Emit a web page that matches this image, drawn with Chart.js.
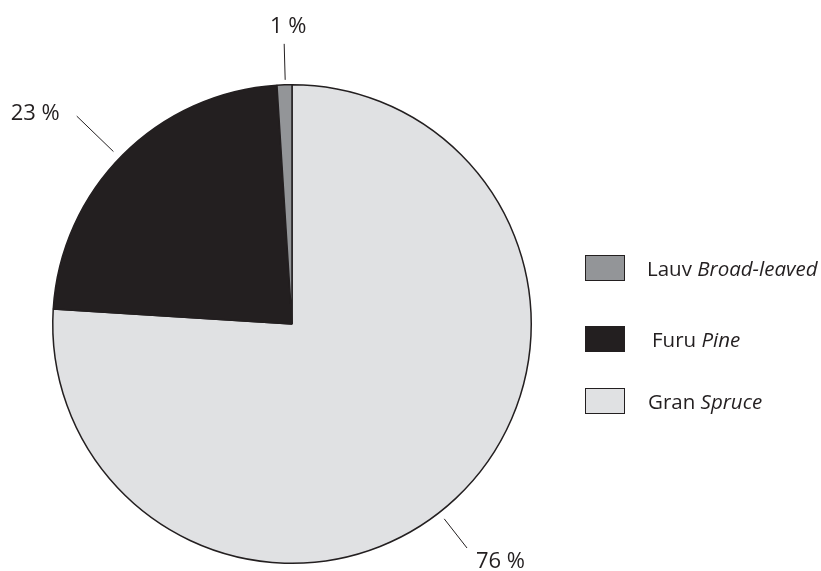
<!DOCTYPE html>
<html>
<head>
<meta charset="utf-8">
<script src="https://cdn.jsdelivr.net/npm/chart.js@4"></script>
<style>
  html, body { margin: 0; padding: 0; background: #fff; }
  #wrap { width: 821px; height: 571px; }
</style>
</head>
<body>
<div id="wrap"><canvas id="pie" width="821" height="571"></canvas></div>
<script>
// clockwise from 12 o'clock
const names = ['Gran', 'Furu', 'Lauv'];
const namesEn = ['Spruce', 'Pine', 'Broad-leaved'];
const shares = [76, 23, 1];
const colors = ['#e0e1e3', '#231f20', '#939598'];

const ink = '#231f20';
const font = '"Open Sans", "Noto Sans", sans-serif';

// leader lines: angle (deg, clockwise from top), radii beyond the pie, where the text goes
const leaders = [
    { angle: 142, r1: 8, r2: 45, align: 'left', dx: 9, dy: 20 },
    { angle: 314, r1: 9, r2: 60, align: 'right', dx: -17, dy: 4 },
    { angle: 358.4, r1: 5, r2: 41, align: 'center', dx: 4, dy: -11 }
];

const labelsPlugin = {
    id: 'labels',
    afterDraw(chart) {
        const ctx = chart.ctx;
        const arcs = chart.getDatasetMeta(0).data;
        ctx.save();
        ctx.strokeStyle = ink;
        ctx.fillStyle = ink;
        ctx.lineWidth = 1;
        ctx.font = '22px ' + font;
        ctx.textBaseline = 'alphabetic';
        arcs.forEach((arc, i) => {
            const L = leaders[i];
            const a = L.angle * Math.PI / 180;
            const sx = Math.sin(a), sy = -Math.cos(a);
            const R = arc.outerRadius;
            const x1 = arc.x + sx * (R + L.r1), y1 = arc.y + sy * (R + L.r1);
            const x2 = arc.x + sx * (R + L.r2), y2 = arc.y + sy * (R + L.r2);
            ctx.beginPath();
            ctx.moveTo(x1, y1);
            ctx.lineTo(x2, y2);
            ctx.stroke();
            ctx.textAlign = L.align;
            ctx.fillText(shares[i] + ' %', x2 + L.dx, y2 + L.dy);
        });

        // legend, reverse order
        const ys = [255, 326, 388];
        const tx = [647, 652, 648];
        ctx.textAlign = 'left';
        for (let k = 0; k < 3; k++) {
            const i = 2 - k;
            ctx.fillStyle = colors[i];
            ctx.fillRect(585, ys[k], 40, 26);
            ctx.strokeStyle = ink;
            ctx.strokeRect(585.5, ys[k] + 0.5, 39, 25);
            const base = ys[k] + 21;
            ctx.fillStyle = ink;
            ctx.font = '20.5px ' + font;
            const first = names[i] + ' ';
            ctx.fillText(first, tx[k], base);
            const w = ctx.measureText(first).width;
            ctx.font = 'italic 20.5px ' + font;
            ctx.fillText(namesEn[i], tx[k] + w, base);
        }
        ctx.restore();
    }
};

new Chart(document.getElementById('pie'), {
    type: 'pie',
    data: {
        labels: names,
        datasets: [{
            data: shares,
            backgroundColor: colors,
            borderColor: ink,
            borderWidth: 1.5
        }]
    },
    options: {
        responsive: false,
        animation: false,
        layout: { padding: { left: 51, right: 288, top: 84, bottom: 7 } },
        plugins: {
            legend: { display: false },
            tooltip: { enabled: false }
        }
    },
    plugins: [labelsPlugin]
});
</script>
</body>
</html>
